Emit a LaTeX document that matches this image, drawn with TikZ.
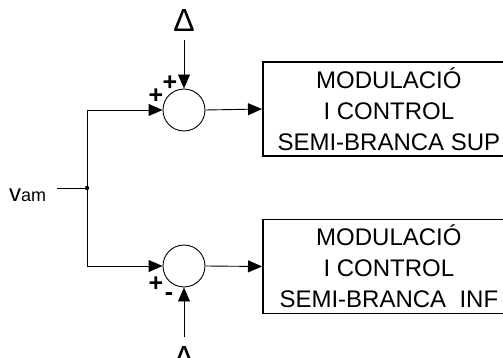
\documentclass[tikz,border=0pt]{standalone}
\usepackage{fontspec}
\setmainfont{Liberation Sans}
\usetikzlibrary{arrows.meta}
\tikzset{
  ln/.style={line width=0.9pt},
  arr/.style={ln,-{Triangle[length=14pt,width=12pt]}},
  sumnode/.style={circle,draw,line width=0.9pt,minimum size=42pt,inner sep=0pt},
  blockbox/.style={draw,line width=1.8pt,minimum width=252pt,minimum height=94pt,inner sep=0pt,align=center,
    font=\fontsize{24}{31}\selectfont},
  deltatxt/.style={inner sep=0pt,font=\fontsize{32}{36}\selectfont},
  signtxt/.style={inner sep=0pt,font=\bfseries\fontsize{25}{28}\selectfont},
}
\begin{document}
\begin{tikzpicture}[x=1pt,y=-1pt]
\useasboundingbox (0,0) rectangle (503,358);
% summing junctions
\node[sumnode] (s1) at (184,110) {};
\node[sumnode] (s2) at (184,266) {};
% blocks
\node[blockbox,anchor=west] (b1) at (262,109) {MODULACIÓ\\I CONTROL\\SEMI-BRANCA SUP};
\node[blockbox,anchor=west] (b2) at (262,266.5) {MODULACIÓ\\I CONTROL\\SEMI-BRANCA\ \ INF};
% deltas
\node[deltatxt,anchor=south] (d1) at (184,32) {Δ};
\node[deltatxt,anchor=north] (d2) at (184,346) {Δ};
% input
\node[inner sep=0pt,anchor=base west] (vam) at (9,201) {\fontsize{24}{26}\selectfont v\fontsize{18}{20}\selectfont am};
\coordinate (in) at (57,188);
\coordinate (j) at (87,188);
\draw[ln] (in) -- (j);
\fill (j) circle (2.2);
\draw[arr] (j) |- (s1.west);
\draw[arr] (j) |- (s2.west);
\draw[arr] ([yshift=-8pt]d1.south) -- (s1.north);
\draw[arr] ([yshift=9pt]d2.north) -- (s2.south);
\draw[arr] (s1.east) -- (b1.west);
\draw[arr] (s2.east) -- (b2.west);
% signs
\node[signtxt] (p1) at (170,83) {+};
\node[signtxt] (p2) at (156,96) {+};
\node[signtxt] (p3) at (156,284) {+};
\node[signtxt] (m1) at (169,297) {-};
\end{tikzpicture}
\end{document}
